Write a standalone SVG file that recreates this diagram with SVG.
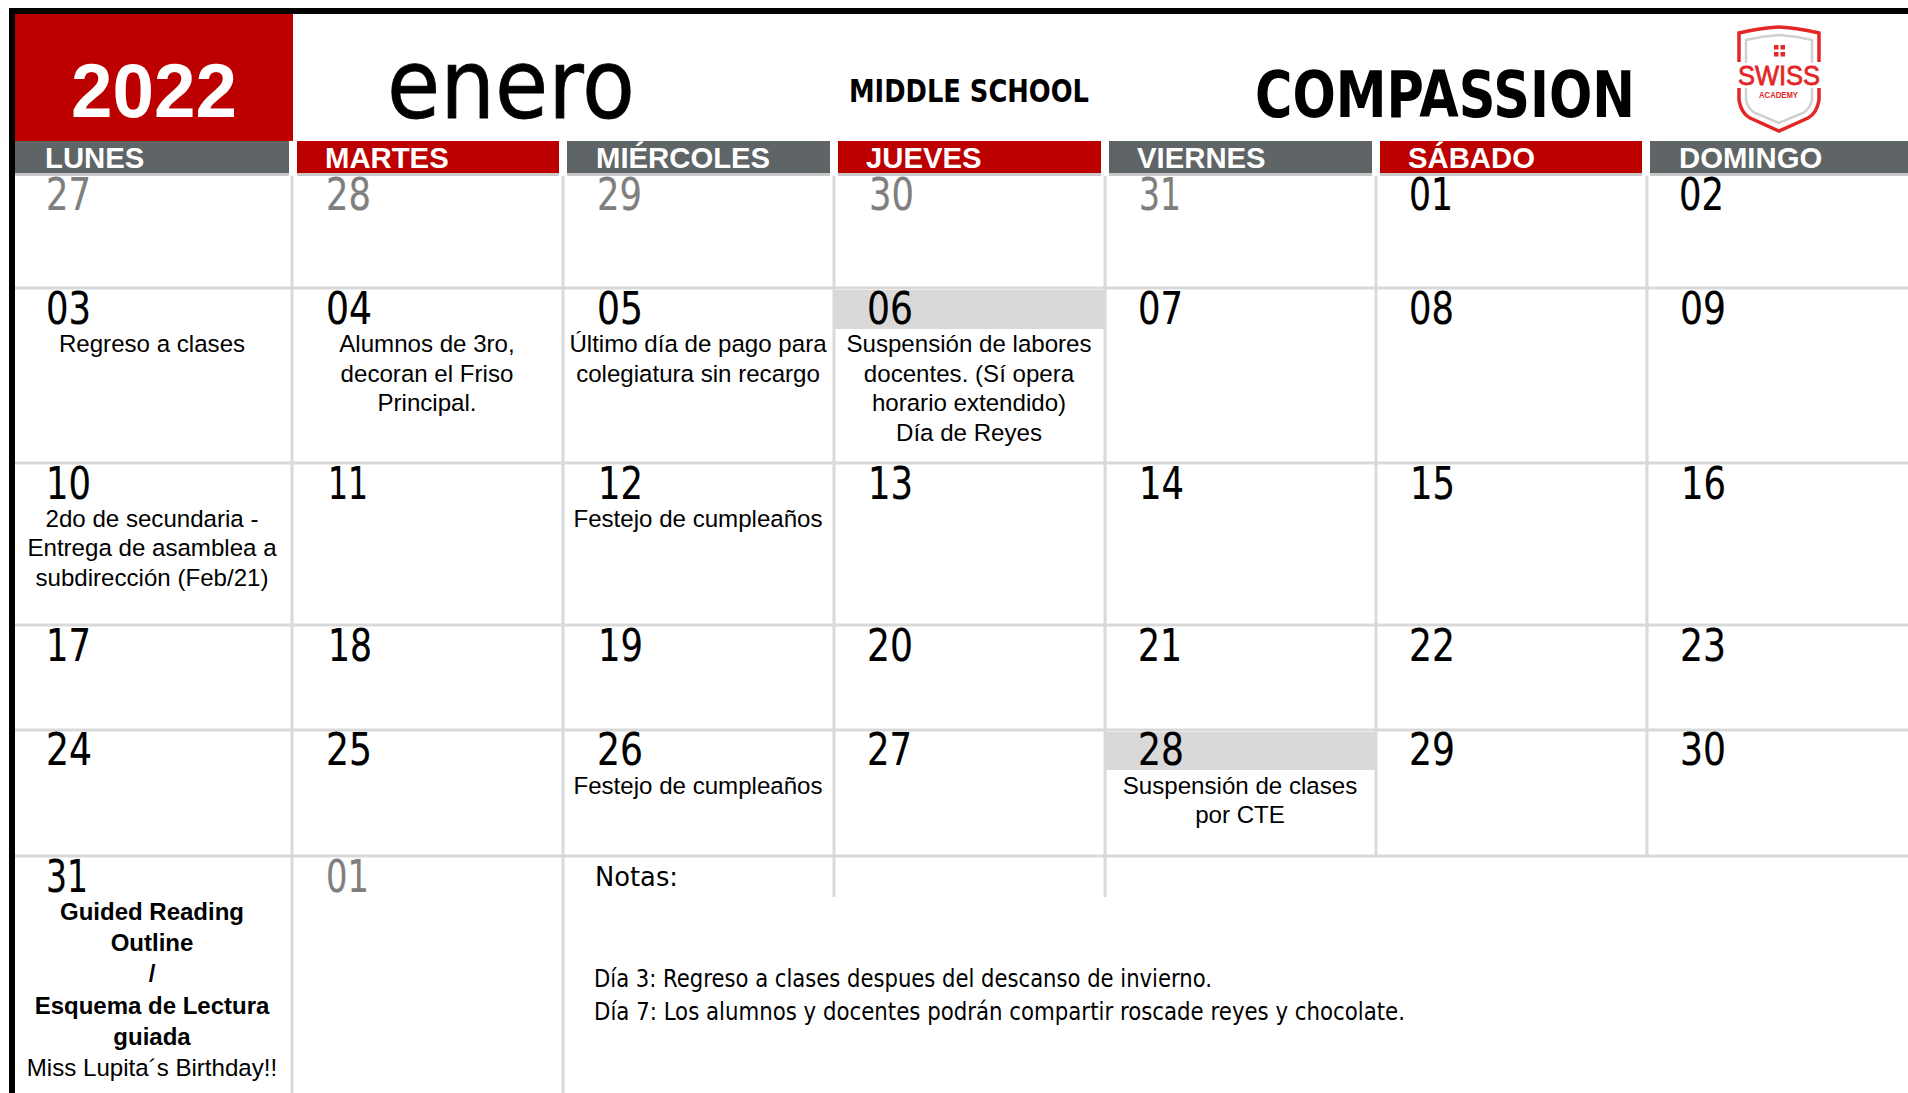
<svg xmlns="http://www.w3.org/2000/svg" width="1908" height="1093" viewBox="0 0 1908 1093">
<style>
text{font-family:"Liberation Sans",Arial,sans-serif;fill:#000}
.h{font-weight:700;font-size:29.300px;fill:#fff}
.n{font-family:"DejaVu Sans",sans-serif;font-size:44px;stroke:#000;stroke-width:.2px}
.n.g{fill:#7f7f7f;stroke:#7f7f7f}
.t{font-size:24.100px;text-anchor:middle}
.b{font-size:24px;font-weight:700;text-anchor:middle}
.d{font-family:"DejaVu Sans",sans-serif;font-size:24px}
.l{stroke:#d9d9d9;stroke-width:3;fill:none}
.s{stroke:#c9c9c9;stroke-width:3;fill:none}
.lr{stroke:#e32626;stroke-width:3.500;fill:none}
.lg{stroke:#d0d0d0;stroke-width:2.500;fill:none}
.rd{fill:#bc0000}.gy{fill:#5f6566}
</style>
<rect width="1908" height="1093" fill="#fff"/>
<rect x="9" y="8" width="1899" height="6" fill="#000"/>
<rect x="9" y="8" width="6" height="1085" fill="#000"/>
<rect class="rd" x="15" y="14" width="278" height="127"/>
<text x="71" y="117" font-size="76" font-weight="700" style="fill:#fff" textLength="166" lengthAdjust="spacingAndGlyphs">2022</text>
<text x="387" y="118" style="font-family:'DejaVu Sans',sans-serif;font-size:96px;stroke:#000;stroke-width:.8px" textLength="248" lengthAdjust="spacingAndGlyphs">enero</text>
<text x="849" y="102" style="font-family:'DejaVu Sans',sans-serif;font-size:31.500px;font-weight:700" textLength="240" lengthAdjust="spacingAndGlyphs">MIDDLE SCHOOL</text>
<text x="1255" y="117" style="font-family:'DejaVu Sans',sans-serif;font-size:64px;font-weight:700" textLength="380" lengthAdjust="spacingAndGlyphs">COMPASSION</text>

<g id="logo">
<path class="lr" d="M1739 62V33Q1760 28 1779 27Q1798 28 1819 33V62M1739 88V100Q1741 113 1750 118L1779 131L1808 118Q1817 113 1819 100V88"/>
<path class="lg" d="M1746 63V40Q1762 36 1779 35Q1796 36 1812 40V63M1746 88V100Q1748 109 1755 113L1779 123L1803 113Q1810 109 1812 100V88"/>
<path fill="#e32626" d="M1774 45h4.500v4.500h-4.500zM1780.500 45h4.500v4.500h-4.500zM1774 52h4.500v4.500h-4.500zM1780.500 52h4.500v4.500h-4.500z"/>
<text x="1738" y="85" style="font-family:'Liberation Sans',sans-serif;font-size:28px;fill:#e32626;stroke:#e32626;stroke-width:.8px" textLength="82" lengthAdjust="spacingAndGlyphs">SWISS</text>
<text x="1759" y="98" style="font-size:9px;font-weight:700;fill:#e32626" textLength="39" lengthAdjust="spacingAndGlyphs">ACADEMY</text>
</g>

<g id="headers">
<rect class="gy" x="15" y="141" width="274" height="32"/>
<rect class="rd" x="297" y="141" width="262" height="32"/>
<rect class="gy" x="567" y="141" width="263" height="32"/>
<rect class="rd" x="838" y="141" width="263" height="32"/>
<rect class="gy" x="1109" y="141" width="263" height="32"/>
<rect class="rd" x="1380" y="141" width="262" height="32"/>
<rect class="gy" x="1650" y="141" width="258" height="32"/>
<path class="s" d="M15 174.500H289M297 174.500H559M567 174.500H830M838 174.500H1101M1109 174.500H1372M1380 174.500H1642M1650 174.500H1908"/>
<text class="h" x="45" y="168">LUNES</text>
<text class="h" x="325" y="168">MARTES</text>
<text class="h" x="596" y="168">MIÉRCOLES</text>
<text class="h" x="866" y="168">JUEVES</text>
<text class="h" x="1137" y="168">VIERNES</text>
<text class="h" x="1408" y="168">SÁBADO</text>
<text class="h" x="1679" y="168">DOMINGO</text>
</g>

<g id="grid">
<rect x="835" y="290" width="270" height="39" fill="#d9d9d9"/>
<rect x="1105" y="732" width="271" height="38" fill="#d9d9d9"/>
<path class="l" d="M292 176V1093M563 176V1093M834 176V897M1105 176V897M1376 176V856M1647 176V856M15 288H1908M15 463H1908M15 625H1908M15 730H1908M15 856H1908"/>
</g>

<g id="numbers">
<text class="n g" x="46" y="210" textLength="45" lengthAdjust="spacingAndGlyphs">27</text>
<text class="n g" x="326" y="210" textLength="45" lengthAdjust="spacingAndGlyphs">28</text>
<text class="n g" x="597" y="210" textLength="45" lengthAdjust="spacingAndGlyphs">29</text>
<text class="n g" x="869" y="210" textLength="45" lengthAdjust="spacingAndGlyphs">30</text>
<text class="n g" x="1139" y="210" textLength="42" lengthAdjust="spacingAndGlyphs">31</text>
<text class="n" x="1409" y="210" textLength="44" lengthAdjust="spacingAndGlyphs">01</text>
<text class="n" x="1679" y="210" textLength="45" lengthAdjust="spacingAndGlyphs">02</text>

<text class="n" x="46" y="324" textLength="45" lengthAdjust="spacingAndGlyphs">03</text>
<text class="n" x="326" y="324" textLength="46" lengthAdjust="spacingAndGlyphs">04</text>
<text class="n" x="597" y="324" textLength="46" lengthAdjust="spacingAndGlyphs">05</text>
<text class="n" x="867" y="324" textLength="46" lengthAdjust="spacingAndGlyphs">06</text>
<text class="n" x="1138" y="324" textLength="45" lengthAdjust="spacingAndGlyphs">07</text>
<text class="n" x="1409" y="324" textLength="45" lengthAdjust="spacingAndGlyphs">08</text>
<text class="n" x="1680" y="324" textLength="46" lengthAdjust="spacingAndGlyphs">09</text>

<text class="n" x="46" y="499" textLength="45" lengthAdjust="spacingAndGlyphs">10</text>
<text class="n" x="328" y="499" textLength="40" lengthAdjust="spacingAndGlyphs">11</text>
<text class="n" x="598" y="499" textLength="45" lengthAdjust="spacingAndGlyphs">12</text>
<text class="n" x="868" y="499" textLength="45" lengthAdjust="spacingAndGlyphs">13</text>
<text class="n" x="1139" y="499" textLength="45" lengthAdjust="spacingAndGlyphs">14</text>
<text class="n" x="1410" y="499" textLength="45" lengthAdjust="spacingAndGlyphs">15</text>
<text class="n" x="1681" y="499" textLength="45" lengthAdjust="spacingAndGlyphs">16</text>

<text class="n" x="46" y="661" textLength="45" lengthAdjust="spacingAndGlyphs">17</text>
<text class="n" x="328" y="661" textLength="44" lengthAdjust="spacingAndGlyphs">18</text>
<text class="n" x="598" y="661" textLength="45" lengthAdjust="spacingAndGlyphs">19</text>
<text class="n" x="867" y="661" textLength="46" lengthAdjust="spacingAndGlyphs">20</text>
<text class="n" x="1138" y="661" textLength="44" lengthAdjust="spacingAndGlyphs">21</text>
<text class="n" x="1409" y="661" textLength="46" lengthAdjust="spacingAndGlyphs">22</text>
<text class="n" x="1680" y="661" textLength="46" lengthAdjust="spacingAndGlyphs">23</text>

<text class="n" x="46" y="765" textLength="46" lengthAdjust="spacingAndGlyphs">24</text>
<text class="n" x="326" y="765" textLength="46" lengthAdjust="spacingAndGlyphs">25</text>
<text class="n" x="597" y="765" textLength="46" lengthAdjust="spacingAndGlyphs">26</text>
<text class="n" x="867" y="765" textLength="45" lengthAdjust="spacingAndGlyphs">27</text>
<text class="n" x="1138" y="765" textLength="46" lengthAdjust="spacingAndGlyphs">28</text>
<text class="n" x="1409" y="765" textLength="46" lengthAdjust="spacingAndGlyphs">29</text>
<text class="n" x="1680" y="765" textLength="46" lengthAdjust="spacingAndGlyphs">30</text>

<text class="n" x="46" y="892" textLength="42" lengthAdjust="spacingAndGlyphs">31</text>
<text class="n g" x="326" y="892" textLength="43" lengthAdjust="spacingAndGlyphs">01</text>
</g>

<g id="events">
<text class="t" x="152" y="352">Regreso a clases</text>
<text class="t" x="427" y="352">Alumnos de 3ro,</text>
<text class="t" x="427" y="382">decoran el Friso</text>
<text class="t" x="427" y="411">Principal.</text>
<text class="t" x="698" y="352">Último día de pago para</text>
<text class="t" x="698" y="382">colegiatura sin recargo</text>
<text class="t" x="969" y="352">Suspensión de labores</text>
<text class="t" x="969" y="382">docentes. (Sí opera</text>
<text class="t" x="969" y="411">horario extendido)</text>
<text class="t" x="969" y="441">Día de Reyes</text>
<text class="t" x="152" y="526.500">2do de secundaria -</text>
<text class="t" x="152" y="556">Entrega de asamblea a</text>
<text class="t" x="152" y="586">subdirección (Feb/21)</text>
<text class="t" x="698" y="526.500">Festejo de cumpleaños</text>
<text class="t" x="698" y="793.500">Festejo de cumpleaños</text>
<text class="t" x="1240" y="793.500">Suspensión de clases</text>
<text class="t" x="1240" y="822.500">por CTE</text>
<text class="b" x="152" y="920">Guided Reading</text>
<text class="b" x="152" y="951">Outline</text>
<text class="b" x="152" y="982">/</text>
<text class="b" x="152" y="1014">Esquema de Lectura</text>
<text class="b" x="152" y="1045">guiada</text>
<text class="t" x="152" y="1076">Miss Lupita´s Birthday!!</text>
</g>

<g id="notes">
<text class="d" x="595" y="886" style="font-size:26px" textLength="83" lengthAdjust="spacingAndGlyphs">Notas:</text>
<text class="d" x="594" y="987" textLength="618" lengthAdjust="spacingAndGlyphs">Día 3: Regreso a clases despues del descanso de invierno.</text>
<text class="d" x="594" y="1020" textLength="811" lengthAdjust="spacingAndGlyphs">Día 7: Los alumnos y docentes podrán compartir roscade reyes y chocolate.</text>
</g>
</svg>
